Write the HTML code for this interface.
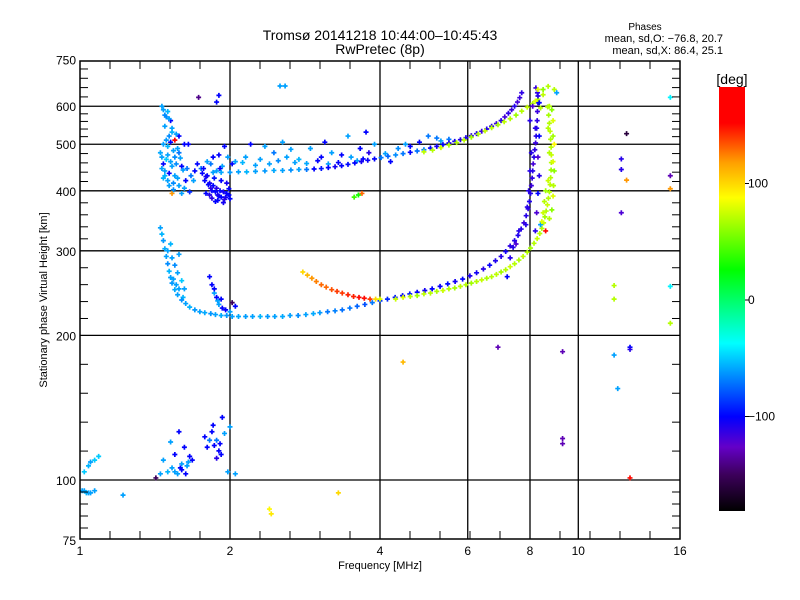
<!DOCTYPE html>
<html><head><meta charset="utf-8"><style>
body{margin:0;background:#fff;}
svg{display:block;font-family:"Liberation Sans",sans-serif;}
</style></head><body>
<svg id="chart" width="800" height="600" viewBox="0 0 800 600" xmlns="http://www.w3.org/2000/svg">
<rect width="800" height="600" fill="#fff"/>
<text x="380" y="40" text-anchor="middle" font-size="14">Tromsø 20141218 10:44:00–10:45:43</text>
<text x="380" y="54" text-anchor="middle" font-size="14">RwPretec (8p)</text>
<text x="645" y="30" text-anchor="middle" font-size="10">Phases</text>
<text x="723" y="42" text-anchor="end" font-size="11">mean, sd,O: −76.8, 20.7</text>
<text x="723" y="54" text-anchor="end" font-size="11">mean, sd,X:  86.4, 25.1</text>
<g id="grid"></g>
<g id="marks"></g>
<g id="axes"></g>
<text x="380" y="569" text-anchor="middle" font-size="11">Frequency [MHz]</text>
<text x="0" y="0" text-anchor="middle" font-size="11" transform="translate(47,300) rotate(-90)">Stationary phase Virtual Height [km]</text>
<defs><linearGradient id="cbg" x1="0" y1="0" x2="0" y2="1"></linearGradient></defs>
<rect x="719" y="87" width="26" height="424" fill="url(#cbg)"/>
<text x="732" y="84" text-anchor="middle" font-size="14">[deg]</text>
<g id="cbticks"></g>
</svg>
<script>
// ---- chart data ----
const xTickVals=[1,2,4,6,8,10,16];
const yTickVals=[75,100,200,300,400,500,600,750];
const cbTickVals=[100,0,-100];

const oLowF=[1.45,1.46,1.47,1.48,1.49,1.50,1.51,1.52,1.53,1.55,1.57,1.60,1.63,1.66,1.70,1.74,1.78,1.83,1.87,1.92,1.97,2.02,2.08,2.15,2.22,2.30,2.38,2.46,2.55,2.64,2.74,2.84,2.94,3.03,3.14,3.25,3.36,3.48,3.60,3.73,3.86,4.00,4.14,4.29,4.44,4.59,4.75,4.92,5.09,5.28,5.47,5.66,5.86,6.06,6.25,6.45,6.64,6.82,7.00,7.15,7.30,7.45,7.57,7.68,7.78,7.86,7.93,7.98,8.02,8.05,8.08,8.10,8.12,8.15,8.18,8.21,8.23,8.25,8.27,8.28,8.30,8.28,8.22];
const oLowH=[335,325,315,303,292,282,272,264,257,249,243,237,233,229,226,224,223,222,221,220,220,219,219,219,219,219,219,219,219,220,220,221,222,223,224,225,226,228,230,232,234,236,238,240,242,244,246,248,250,253,256,259,262,266,270,275,280,286,292,299,307,315,323,333,343,355,367,380,395,410,425,440,455,470,487,503,520,540,560,585,610,640,655];
const oLowP=[-60,-55,-62,-58,-60,-65,-55,-60,-62,-58,-60,-64,-60,-56,-62,-60,-58,-63,-60,-57,-62,-60,-58,-61,-60,-55,-62,-60,-58,-60,-65,-60,-58,-62,-70,-68,-72,-70,-75,-80,-70,-85,-90,-95,-100,-95,-100,-105,-100,-102,-98,-105,-100,-108,-105,-110,-102,-108,-110,-105,-112,-110,-108,-110,-115,-110,-112,-108,-110,-115,-112,-110,-118,-110,-112,-115,-110,-108,-112,-115,-110,-112,-115];

const xLowF=[4.30,4.45,4.60,4.75,4.90,5.05,5.20,5.35,5.50,5.65,5.80,5.95,6.10,6.25,6.40,6.55,6.70,6.85,7.00,7.15,7.30,7.45,7.60,7.75,7.90,8.02,8.15,8.27,8.37,8.45,8.52,8.57,8.62,8.67,8.71,8.75,8.78,8.80,8.82,8.83,8.83,8.82,8.80,8.78,8.75,8.72,8.68];
const xLowH=[238,240,241,242,244,245,247,248,250,251,253,255,257,259,261,263,265,268,271,274,278,282,287,292,298,304,311,318,326,334,343,353,363,374,386,398,412,426,442,458,475,493,512,532,553,575,598];
const xLowP=[75,80,70,65,72,70,68,75,70,66,72,70,65,70,74,68,70,72,66,70,75,70,68,72,70,65,70,74,70,68,72,66,70,75,70,68,72,70,65,70,74,70,68,72,70,66,70];

const oUpF=[1.85,1.92,2.0,2.08,2.16,2.25,2.35,2.45,2.55,2.65,2.75,2.85,2.95,3.05,3.15,3.25,3.35,3.45,3.56,3.67,3.78,3.9,4.02,4.15,4.3,4.45,4.6,4.75,4.9,5.05,5.2,5.35,5.5,5.65,5.8,5.95,6.1,6.25,6.4,6.55,6.7,6.85,7.0,7.12,7.24,7.35,7.45,7.55,7.63,7.7];
const oUpH=[437,437,437,438,438,439,440,441,441,442,443,443,444,445,447,449,451,454,457,460,463,466,469,472,475,478,481,484,487,491,495,499,503,507,511,516,521,526,532,538,545,552,560,570,580,590,600,612,625,640];
const oUpP=[-60,-58,-62,-60,-55,-60,-62,-58,-60,-64,-60,-70,-100,-95,-100,-105,-100,-98,-100,-105,-102,-100,-70,-75,-65,-70,-100,-72,-68,-100,-105,-100,-108,-105,-110,-108,-112,-110,-115,-110,-112,-115,-110,-118,-112,-115,-110,-118,-115,-112];

const xUpF=[4.9,5.1,5.3,5.5,5.7,5.9,6.1,6.3,6.5,6.7,6.9,7.1,7.3,7.5,7.7,7.9,8.1,8.3,8.5];
const xUpH=[482,486,492,498,504,510,517,525,533,541,549,557,565,575,586,597,608,620,634];
const xUpP=[72,70,75,68,70,72,66,70,74,70,68,72,70,65,70,74,70,68,72];

const orangeF=[2.80,2.86,2.92,2.98,3.05,3.12,3.20,3.28,3.36,3.45,3.54,3.63,3.72,3.82,3.92,4.0,3.55,3.62,3.68];
const orangeH=[271,267,263,259,255,252,249,247,245,243,241,240,239,238,238,238,388,392,395];
const orangeP=[100,110,120,125,130,130,135,140,140,145,145,150,150,140,100,80,40,30,130];

const cloudF=[1.47,1.50,1.49,1.52,1.48,1.53,1.51,1.55,1.47,1.50,1.54,1.58,1.46,1.49,1.52,1.56,1.60,1.64,1.48,1.51,1.55,1.47,1.50,1.54,1.58,1.62,1.66,1.53,1.70,1.75,1.62,1.65,1.58,
1.78,1.82,1.85,1.88,1.91,1.94,1.97,1.80,1.86,1.92,1.99,2.0,1.84,1.90,1.96,1.88,1.93,1.83,1.98,1.90,1.95,2.02,
2.15,2.3,2.45,2.6,2.75,2.9,3.05,3.2,3.35,3.5,3.65,3.8,3.9,2.2,2.55,3.45,3.75,4.2,4.5,5.0,5.2,4.8,
1.50,1.53,1.55,1.57,1.60,1.62,1.58,1.52,1.82,1.84,1.86,1.88,1.90,1.93,2.02,2.05];
const cloudH=[590,585,570,560,545,540,520,510,500,495,485,480,470,465,460,455,450,445,440,435,430,425,420,415,410,405,398,395,440,445,500,500,520,
420,415,410,405,400,398,395,430,425,420,392,385,400,390,388,440,450,455,470,475,495,455,
470,465,480,470,465,490,470,480,475,470,490,480,500,500,505,520,530,460,500,520,515,505,
300,290,280,270,260,250,295,310,265,255,245,240,232,228,234,230];
const cloudP=[-60,-55,-65,-100,-60,-60,-65,160,-60,-55,-60,-70,-60,-50,-60,-65,-100,-70,-60,-100,-60,-55,-60,-65,-60,-60,-90,120,-100,-70,-100,-100,-100,
-100,-105,-100,-110,-100,-105,-100,-100,-95,-100,-100,-100,-100,-100,-105,-60,-60,-70,-60,-100,-100,-100,
-60,-60,-70,-60,-55,-60,-100,-60,-100,-60,-100,-110,-60,-100,-60,-60,-100,-100,-60,-70,-70,-100,
-60,-60,-65,-60,-50,-60,-60,-55,-100,-100,-60,-100,-60,-100,-150,-100];

const cloud2F=[1.46,1.48,1.51,1.53,1.56,1.49,1.52,1.57,1.45,1.50,1.55,1.59,1.47,1.53,1.61,1.48,1.57,1.63,1.51,1.46,1.54,1.60,1.67,1.72,1.69,
1.76,1.79,1.81,1.83,1.87,1.89,1.92,1.95,1.77,1.80,1.85,1.91,1.97,1.79,1.84,1.89,1.94,1.99,1.82,1.87,
2.05,2.12,2.25,2.4,2.5,2.7,2.85,3.0,3.15,3.3,3.6,3.7,4.1,4.35,4.6,5.3,5.5,2.35,2.65,3.1,
1.54,1.58,1.61,1.56,1.92,1.96,2.0,1.86,1.89];
const cloud2H=[600,575,565,530,525,510,505,490,480,475,470,468,455,450,442,430,425,420,410,445,402,395,430,455,420,
435,428,412,405,398,392,388,384,445,460,470,445,415,395,386,382,378,404,392,380,
460,458,452,455,462,458,456,462,455,458,462,466,478,490,495,508,512,495,488,505,
262,250,240,255,238,226,224,250,236];
const cloud2P=[-60,-65,-60,-55,-60,-62,-100,-60,-58,-60,-65,-60,-100,-60,-60,-55,-60,-100,-60,-60,-65,-60,-70,-100,-60,
-100,-105,-100,-110,-100,-105,-100,-110,-100,-60,-100,-100,-105,-100,-110,-100,-105,-100,-110,-100,
-60,-55,-60,-60,-65,-60,-58,-100,-60,-100,-60,-100,-60,-65,-100,-60,-70,-60,-60,-100,
-60,-60,-55,-60,-100,-100,-60,-100,-60];

const lowF=[1.01,1.02,1.03,1.05,1.07,1.04,1.02,1.04,1.05,1.07,1.09,1.22,1.42,1.45,1.50,1.55,1.60,1.63,1.55,1.62,1.65,1.68,1.52,1.58,1.60,1.47,1.78,1.82,1.86,1.90,1.92,1.88,1.95,1.98,2.0,1.93,2.05,2.4,2.42,
1.53,1.57,1.59,1.64,1.66,1.80,1.84,1.88,1.91,1.85];
const lowH=[95,95,94,94,95,94,104,107,109,110,112,93,101,103,104,104,105,103,113,117,109,110,120,126,108,110,123,121,118,115,113,111,125,104,129,135,103,87,85,
106,103,106,107,112,117,126,121,119,130];
const lowP=[-60,-60,-55,-60,-60,-60,-50,-55,-60,-50,-50,-60,-150,-60,-55,-60,-100,-100,-100,-100,-60,-100,-60,-100,-60,-60,-100,-70,-100,-100,-100,-110,-60,-60,-60,-100,-60,90,95,
-60,-60,-100,-60,-100,-100,-100,-70,-100,-100];

const scatF=[1.73,1.9,1.88,2.52,2.58,4.45,3.3,6.9,9.3,9.3,9.3,12.5,12.2,12.2,12.5,12.2,11.8,11.8,12.7,12.7,11.8,12.0,12.7,15.3,15.3,15.3,15.3,15.3,
8.0,8.1,8.3,8.35,8.2,8.35,8.05,8.3,8.0,8.35,7.95,8.3,7.9,8.25,7.85,8.2,7.6,7.4,7.3,7.5,8.4,7.2,
8.75,8.85,8.9,8.7,8.9,8.95,8.75,8.9,8.95,8.7,8.92,8.6,8.9,8.55,8.85,8.5,8.75,8.45,8.6,8.7,8.5,8.95,8.3,9.05,8.4,8.2];
const scatH=[626,632,612,661,661,176,94,189,185,122,119,526,466,443,421,360,254,238,189,187,182,155,101,626,430,404,253,212,
560,600,630,610,540,520,480,470,440,430,400,395,370,360,340,330,330,305,290,310,340,265,
600,590,560,540,520,500,480,460,440,420,410,400,390,380,365,360,350,345,330,660,650,650,650,640,595,615];
const scatP=[-140,-100,-100,-60,-60,110,100,-130,-130,-130,-130,-160,-110,-110,120,-120,70,70,-100,-110,-60,-60,150,-40,-130,120,-40,70,
-110,-120,-110,-100,-110,-100,-110,-120,-110,-110,-110,-100,-110,-120,-110,-110,-110,-110,-110,-120,-60,-100,
70,60,80,70,65,90,70,80,60,75,70,65,80,70,60,75,70,80,150,70,60,70,80,-60,70,80];

// ---- scales ----
const X0=80, PX_OCT=150, Y100=480, PX_DBL=144.6;
function xs(f){return X0+PX_OCT*Math.log2(f);}
function ys(h){return Y100-PX_DBL*Math.log2(h/100);}
const stops=[[-181,[0,0,0]],[-150,[60,0,90]],[-126,[100,0,200]],[-100,[0,0,255]],[-70,[0,120,255]],[-37,[0,255,255]],[26,[0,255,0]],[88,[255,255,0]],[118,[255,160,0]],[152,[255,0,0]],[183,[255,0,0]]];
function col(v){
  if(v<=stops[0][0])return 'rgb(0,0,0)';
  for(let i=1;i<stops.length;i++){
    if(v<=stops[i][0]){const a=stops[i-1],b=stops[i];const t=(v-a[0])/(b[0]-a[0]);
      const c=a[1].map((q,k)=>Math.round(q+(b[1][k]-q)*t));return 'rgb('+c.join(',')+')';}
  }
  return 'rgb(255,0,0)';
}
const NS='http://www.w3.org/2000/svg';
function mk(tag,attrs,parent){const e=document.createElementNS(NS,tag);for(const k in attrs)e.setAttribute(k,attrs[k]);parent.appendChild(e);return e;}

// grid
const grid=document.getElementById('grid');
[2,4,6,8,10].forEach(f=>{const l=mk('line',{x1:xs(f),x2:xs(f),y1:61,y2:539,stroke:'#000','stroke-width':1.3},grid);

});
[100,200,300,400,500,600].forEach(h=>{const l=mk('line',{x1:80,x2:680,y1:ys(h),y2:ys(h),stroke:'#000','stroke-width':1.3},grid);

});

// marks
const marks=document.getElementById('marks');
function plot(F,H,P,name){
  for(let i=0;i<F.length;i++){
    const x=xs(F[i]),y=ys(H[i]);
    const p=mk('path',{d:`M${x-2.5} ${y}H${x+2.5}M${x} ${y-2.5}V${y+2.5}`,stroke:col(P[i]),'stroke-width':1.7,fill:'none'},marks);
    
    
  }
}
plot(cloudF,cloudH,cloudP,'echo-cloud-point');
plot(cloud2F,cloud2H,cloud2P,'echo-cloud-point');
plot(lowF,lowH,lowP,'low-echo-point');
plot(oLowF,oLowH,oLowP,'o-trace-point');
plot(oUpF,oUpH,oUpP,'o-multihop-point');
plot(xLowF,xLowH,xLowP,'x-trace-point');
plot(xUpF,xUpH,xUpP,'x-multihop-point');
plot(orangeF,orangeH,orangeP,'sporadic-echo-point');
plot(scatF,scatH,scatP,'scatter-point');

// axes
const ax=document.getElementById('axes');
const fr=mk('rect',{x:80,y:61,width:600,height:478,fill:'none',stroke:'#000','stroke-width':1.5},ax);


for(let x=110;x<680;x+=30){
  mk('line',{x1:x,x2:x,y1:539,y2:531,stroke:'#000','stroke-width':1},ax);
  mk('line',{x1:x,x2:x,y1:61,y2:69,stroke:'#000','stroke-width':1},ax);
}
for(let i=0;i<yTickVals.length-1;i++){
  const a=ys(yTickVals[i]),b=ys(yTickVals[i+1]);
  for(let k=1;k<=4;k++){const y=a+(b-a)*k/5;
    mk('line',{x1:80,x2:88,y1:y,y2:y,stroke:'#000','stroke-width':1},ax);
    mk('line',{x1:672,x2:680,y1:y,y2:y,stroke:'#000','stroke-width':1},ax);}
}
xTickVals.forEach(f=>{const t=mk('text',{x:xs(f),y:555,'text-anchor':'middle','font-size':12},ax);t.textContent=f;

});
yTickVals.forEach(h=>{const t=mk('text',{x:76,y:ys(h)+5,'text-anchor':'end','font-size':12},ax);t.textContent=h;

});

// colorbar
const g=document.getElementById('cbg');
stops.slice().reverse().forEach(s=>{mk('stop',{offset:((183-s[0])/364).toFixed(4),'stop-color':'rgb('+s[1].join(',')+')'},g);});
const cbt=document.getElementById('cbticks');
cbTickVals.forEach(v=>{const y=300-1.165*v;
  mk('line',{x1:745,x2:749,y1:y,y2:y,stroke:'#000','stroke-width':1},cbt);
  const t=mk('text',{x:748,y:y+4,'font-size':12},cbt);t.textContent=v<0?'−'+Math.abs(v):v;
  
  });
</script>
</body></html>
